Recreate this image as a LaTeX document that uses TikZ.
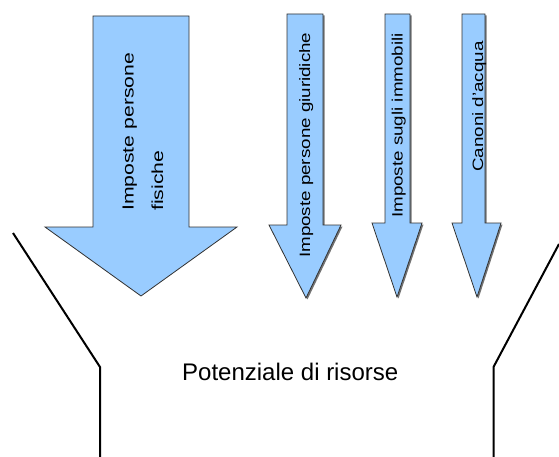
\documentclass[tikz,border=0pt]{standalone}
\usepackage{fontspec}
\setmainfont{Liberation Sans}
\definecolor{arrowfill}{RGB}{153,204,255}
\definecolor{arrowline}{RGB}{50,50,50}
\begin{document}
\begin{tikzpicture}[x=1pt,y=-1pt,
  arrowshape/.style={fill=arrowfill,draw=arrowline,line width=0.8pt,line join=miter},
  arrowshadow/.style={fill=black!55,draw=none},
  vlabel/.style={rotate=90,xscale=1.25,inner sep=0pt,anchor=base west,font=\fontsize{15}{18}\selectfont},
  funnel/.style={draw=black,line width=2pt,line join=miter}]
\useasboundingbox (0,0) rectangle (559,457);
% big arrow
\draw[arrowshape] (93,16) -- (189,16) -- (189,227) -- (237,227) -- (141,296) -- (45,227) -- (93,227) -- cycle;
% arrow 2
\fill[arrowshadow,shift={(1.5,1.5)}] (287,14) -- (323,14) -- (323,225) -- (341,225) -- (306,298) -- (269,225) -- (287,225) -- cycle;
\draw[arrowshape] (287,14) -- (323,14) -- (323,225) -- (341,225) -- (306,298) -- (269,225) -- (287,225) -- cycle;
% arrow 3
\fill[arrowshadow,shift={(1.5,1.5)}] (385,14) -- (410,14) -- (410,223) -- (422,223) -- (397,297) -- (372,223) -- (385,223) -- cycle;
\draw[arrowshape] (385,14) -- (410,14) -- (410,223) -- (422,223) -- (397,297) -- (372,223) -- (385,223) -- cycle;
% arrow 4
\fill[arrowshadow,shift={(1.5,1.5)}] (462,14) -- (485,14) -- (485,223) -- (501,223) -- (477,297) -- (452,223) -- (462,223) -- cycle;
\draw[arrowshape] (462,14) -- (485,14) -- (485,223) -- (501,223) -- (477,297) -- (452,223) -- (462,223) -- cycle;
% labels
\node[vlabel,xscale=1.06,font=\fontsize{16}{29.5}\selectfont] (fis) at (133.5,211)
  {\begin{tabular}[t]{@{}l@{}}Imposte persone\\fisiche\end{tabular}};
\node[vlabel] (giu) at (310,258) {Imposte persone giuridiche};
\node[vlabel] (imm) at (402.5,218) {Imposte sugli immobili};
\node[vlabel] (can) at (483,172) {Canoni d'acqua};
\node[inner sep=0pt,anchor=base west,font=\fontsize{24}{28}\selectfont] (pot) at (182,380) {Potenziale di risorse};
% funnel
\draw[funnel] (13,233) -- (100,367) -- (100,460);
\draw[funnel] (559,244) -- (493.5,367) -- (493.5,460);
\end{tikzpicture}
\end{document}
